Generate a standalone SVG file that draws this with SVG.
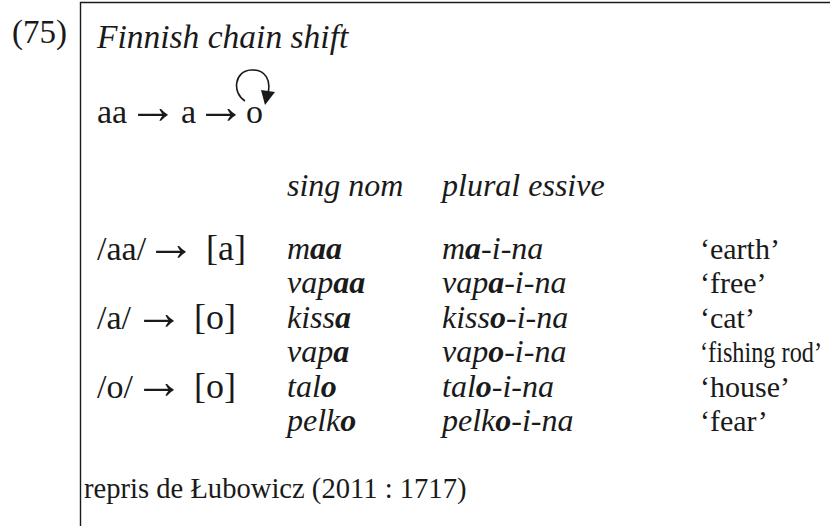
<svg xmlns="http://www.w3.org/2000/svg" width="830" height="526" viewBox="0 0 830 526">
<style>
text{font-family:"Liberation Serif","Times New Roman",serif;fill:#1a1a1a;font-size:32px}
.i{font-style:italic}
.b{font-weight:bold;font-style:italic}
.r{font-size:34px}
.ar{font-size:50px}
.br{font-size:36px}
.g{font-size:30px}
.frame{stroke:#1a1a1a;stroke-width:1.4;fill:none}
</style>
<rect width="830" height="526" fill="#fff"/>
<g id="frame"><path class="frame" d="M80.5 526 V2.5 H830"/></g>
<g id="number"><text x="12" y="43" style="font-size:33px">(75)</text></g>
<g id="title"><text class="i" x="97" y="48" style="font-size:33.5px">Finnish chain shift</text></g>
<g id="chain">
<text class="r" y="123"><tspan x="97">aa</tspan><tspan class="ar" x="128" y="123">→</tspan><tspan x="181" y="123">a</tspan><tspan class="ar" x="196" y="123">→</tspan><tspan x="246" y="123">o</tspan></text>
</g>
<g id="connectors">
<path d="M245 101 C232 93 234 71 251 70 C266 69 271 81 268 93" fill="none" stroke="#1a1a1a" stroke-width="1.6"/>
<polygon points="261,90 275,92 265,105" fill="#1a1a1a"/>
</g>
<g id="table">
<text class="i" x="287" y="196">sing nom</text>
<text class="i" x="442" y="196">plural essive</text>
<text class="r" y="260"><tspan x="97">/aa/</tspan><tspan class="ar" x="146" y="260">→</tspan><tspan class="br" x="206" y="260">[a]</tspan></text>
<text class="i" x="287" y="259">m<tspan class="b">aa</tspan></text>
<text class="i" x="442" y="259">m<tspan class="b">a</tspan>-i-na</text>
<text class="g" x="700" y="259">‘earth’</text>
<text class="i" x="287" y="293">vap<tspan class="b">aa</tspan></text>
<text class="i" x="442" y="293">vap<tspan class="b">a</tspan>-i-na</text>
<text class="g" x="700" y="293">‘free’</text>
<text class="r" y="329"><tspan x="97">/a/</tspan><tspan class="ar" x="134" y="329">→</tspan><tspan class="br" x="194" y="329">[o]</tspan></text>
<text class="i" x="287" y="328">kiss<tspan class="b">a</tspan></text>
<text class="i" x="442" y="328">kiss<tspan class="b">o</tspan>-i-na</text>
<text class="g" x="700" y="328">‘cat’</text>
<text class="i" x="287" y="362">vap<tspan class="b">a</tspan></text>
<text class="i" x="442" y="362">vap<tspan class="b">o</tspan>-i-na</text>
<text class="g" x="700" y="362" textLength="122" lengthAdjust="spacingAndGlyphs">‘fishing rod’</text>
<text class="r" y="398"><tspan x="97">/o/</tspan><tspan class="ar" x="134" y="398">→</tspan><tspan class="br" x="194" y="398">[o]</tspan></text>
<text class="i" x="287" y="397">tal<tspan class="b">o</tspan></text>
<text class="i" x="442" y="397">tal<tspan class="b">o</tspan>-i-na</text>
<text class="g" x="700" y="397">‘house’</text>
<text class="i" x="287" y="431">pelk<tspan class="b">o</tspan></text>
<text class="i" x="442" y="431">pelk<tspan class="b">o</tspan>-i-na</text>
<text class="g" x="700" y="431">‘fear’</text>
</g>
<g id="source"><text x="84" y="498" style="font-size:28.6px">repris de Łubowicz (2011 : 1717)</text></g>
</svg>
